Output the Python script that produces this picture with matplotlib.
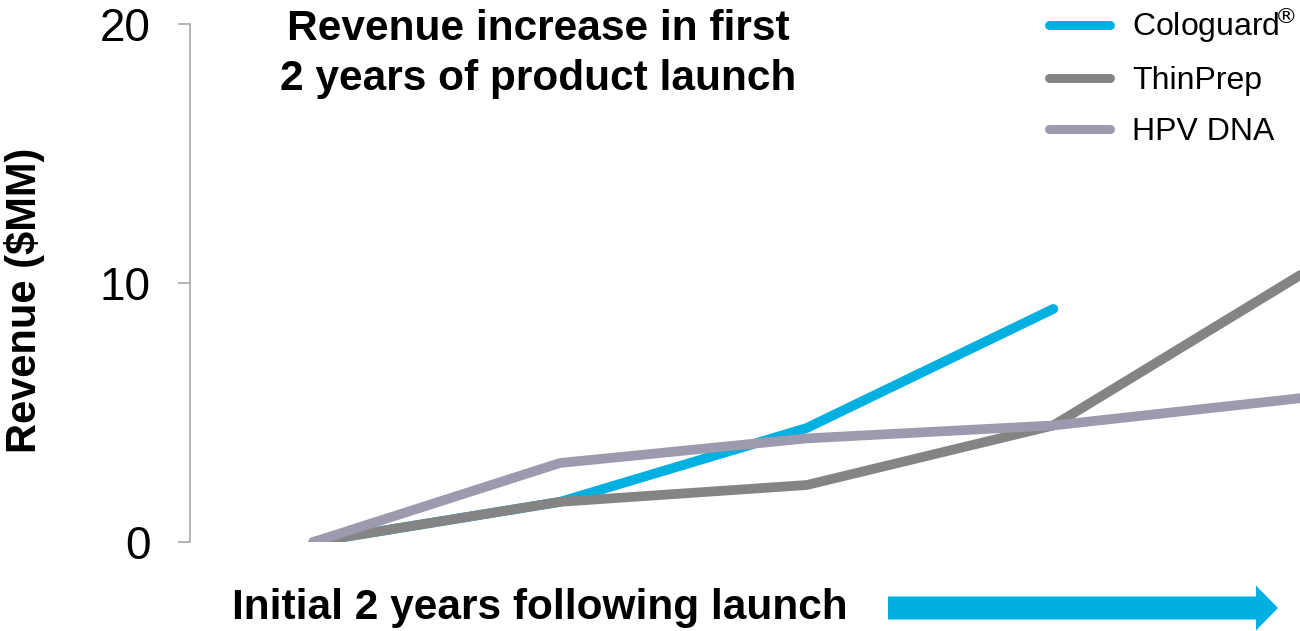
import matplotlib
matplotlib.use("Agg")
import matplotlib.pyplot as plt
from matplotlib.patches import FancyArrow

plt.rcParams['font.family'] = ['Liberation Sans', 'DejaVu Sans']

# --- data (quarters after launch, revenue in $MM) ---------------------------
quarters   = [0, 1, 2, 3, 4]
cologuard  = [0, 1.55, 4.4, 9.0]
thinprep   = [0, 1.55, 2.2, 4.5, 10.3]
hpv_dna    = [0, 3.05, 4.0, 4.5, 5.55]
series_names = ["Cologuard$\\!^{\\circledR}$", "ThinPrep", "HPV DNA"]
y_ticks = [0, 10, 20]

BLUE   = "#00B0E0"
GREY   = "#848484"
LAVEND = "#9B9AAE"
AXGREY = "#A8A8A8"

fig = plt.figure(figsize=(13, 6.31), dpi=100)
ax = fig.add_axes([190 / 1300, 1 - 542 / 631, 1 - 190 / 1300, (542 - 24) / 631])

lw = 7
l1, = ax.plot(quarters[:len(cologuard)], cologuard, color=BLUE, lw=lw,
              solid_capstyle='round', solid_joinstyle='round', zorder=2)
l2, = ax.plot(quarters, thinprep, color=GREY, lw=lw,
              solid_capstyle='round', solid_joinstyle='round', zorder=3)
l3, = ax.plot(quarters, hpv_dna, color=LAVEND, lw=lw,
              solid_capstyle='round', solid_joinstyle='round', zorder=4)

ax.set_xlim(-0.5, 4.0)
ax.set_ylim(0, 20)
ax.set_yticks(y_ticks)
ax.set_xticks([])
for s in ("top", "right", "bottom"):
    ax.spines[s].set_visible(False)
ax.spines["left"].set_color(AXGREY)
ax.spines["left"].set_linewidth(1.2)
ax.spines["left"].set_zorder(1)
ax.tick_params(axis="y", length=8.6, width=1.2, color=AXGREY, pad=20,
               labelsize=33, labelcolor="black")
ax.patch.set_alpha(0)

# legend, top right
leg = fig.legend([l1, l2, l3], series_names, loc="upper left",
                 bbox_to_anchor=(1049 / 1300, 1 - 5 / 631),
                 frameon=False, fontsize=23, handlelength=1.9,
                 handletextpad=0.7, labelspacing=0.66, borderpad=0,
                 borderaxespad=0)
for h in leg.get_lines():
    h.set_solid_capstyle('round')
    h.set_linewidth(6.5)

# headline
fig.text(538 / 1300, 1 - 54 / 631, "Revenue increase in first\n2 years of product launch",
         ha="center", va="center", fontsize=30.5, fontweight="bold",
         linespacing=1.33)

# y label
fig.text(25 / 1300, 1 - 300 / 631, "Revenue ($MM)", rotation=90,
         ha="center", va="center", fontsize=30, fontweight="bold")

# x caption + arrow
fig.text(540 / 1300, 1 - 608 / 631, "Initial 2 years following launch",
         ha="center", va="center", fontsize=30.5, fontweight="bold")
arrow = FancyArrow(8.88, 0.23, 3.90, 0, width=0.23, head_width=0.45,
                   head_length=0.22, length_includes_head=True,
                   color=BLUE, lw=0, transform=fig.dpi_scale_trans)
fig.patches.append(arrow)

fig.savefig("out.png", dpi=100)
